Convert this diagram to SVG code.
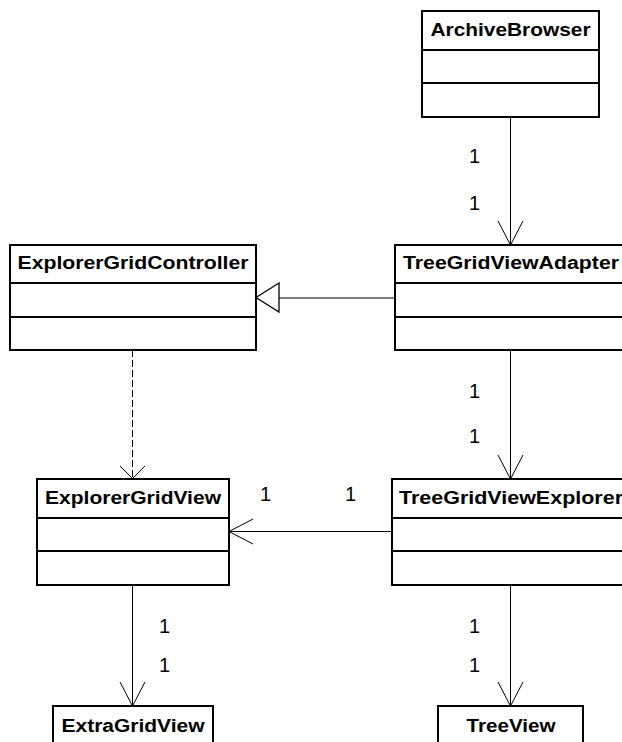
<svg xmlns="http://www.w3.org/2000/svg" width="622" height="742" viewBox="0 0 622 742">
<defs>
<style>
.box{fill:#fff;stroke:#000;stroke-width:2}
.div{stroke:#000;stroke-width:2}
.name{font-family:"Liberation Sans",Arial,sans-serif;font-weight:bold;font-size:18px;fill:#000}
.mult{font-family:"Liberation Sans",Arial,sans-serif;font-size:20px;fill:#000}
.ln{fill:none;stroke:#000;stroke-width:1}
.dash{stroke-dasharray:7,3}
</style>
</defs>
<rect width="622" height="742" fill="#fff"/>
<g id="connectors">
<path class="ln" d="M510.5,117 V245 M498,221 L510.5,245 L523,221"/>
<path class="ln" d="M395,298 H279"/>
<path d="M279,283 L256,297.5 L279,312 Z" fill="#fff" stroke="#000" stroke-width="1.3"/>
<path class="ln dash" d="M132.5,350 V478"/>
<path class="ln" d="M120,466 L132.5,478.5 L145,466"/>
<path class="ln" d="M510.5,350 V479 M498,455 L510.5,479 L523,455"/>
<path class="ln" d="M392,531.5 H229 M253,519 L229,531.5 L253,544"/>
<path class="ln" d="M132.5,585 V706 M120,682 L132.5,706 L145,682"/>
<path class="ln" d="M510.5,585 V706 M498,682 L510.5,706 L523,682"/>
<text class="mult" x="469" y="163">1</text>
<text class="mult" x="469" y="210">1</text>
<text class="mult" x="469" y="398">1</text>
<text class="mult" x="469" y="443">1</text>
<text class="mult" x="260" y="501">1</text>
<text class="mult" x="345" y="501">1</text>
<text class="mult" x="159" y="633">1</text>
<text class="mult" x="159" y="672">1</text>
<text class="mult" x="469" y="633">1</text>
<text class="mult" x="469" y="672">1</text>
</g>
<g id="ArchiveBrowser">
<rect class="box" x="422" y="11" width="177" height="106"/>
<path class="div" d="M422,50 H599 M422,83 H599"/>
<text class="name" x="510.5" y="36" text-anchor="middle" textLength="160" lengthAdjust="spacingAndGlyphs">ArchiveBrowser</text>
</g>
<g id="ExplorerGridController">
<rect class="box" x="10" y="245" width="246" height="105"/>
<path class="div" d="M10,283 H256 M10,317 H256"/>
<text class="name" x="133" y="269" text-anchor="middle" textLength="231" lengthAdjust="spacingAndGlyphs">ExplorerGridController</text>
</g>
<g id="TreeGridViewAdapter">
<rect class="box" x="395" y="245" width="232" height="105"/>
<path class="div" d="M395,283 H627 M395,317 H627"/>
<text class="name" x="511" y="269" text-anchor="middle" textLength="216" lengthAdjust="spacingAndGlyphs">TreeGridViewAdapter</text>
</g>
<g id="ExplorerGridView">
<rect class="box" x="37" y="479" width="192" height="106"/>
<path class="div" d="M37,518 H229 M37,551 H229"/>
<text class="name" x="133" y="504" text-anchor="middle" textLength="176" lengthAdjust="spacingAndGlyphs">ExplorerGridView</text>
</g>
<g id="TreeGridViewExplorer">
<rect class="box" x="392" y="479" width="238" height="106"/>
<path class="div" d="M392,518 H630 M392,551 H630"/>
<text class="name" x="511" y="504" text-anchor="middle" textLength="224" lengthAdjust="spacingAndGlyphs">TreeGridViewExplorer</text>
</g>
<g id="ExtraGridView">
<rect class="box" x="53" y="706" width="160" height="60"/>
<text class="name" x="133" y="732" text-anchor="middle" textLength="143" lengthAdjust="spacingAndGlyphs">ExtraGridView</text>
</g>
<g id="TreeView">
<rect class="box" x="438" y="706" width="145" height="60"/>
<text class="name" x="511" y="732" text-anchor="middle" textLength="89" lengthAdjust="spacingAndGlyphs">TreeView</text>
</g>
</svg>
